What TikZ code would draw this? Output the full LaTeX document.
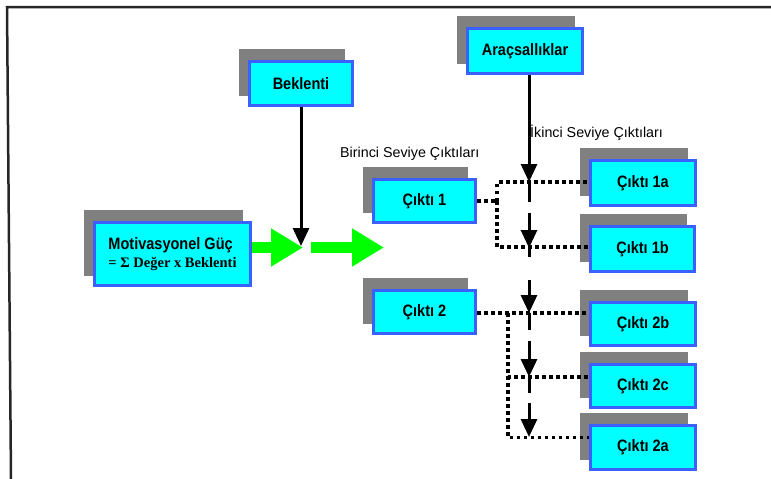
\documentclass[tikz,border=0pt]{standalone}
\usepackage{fontspec}
\setmainfont{Liberation Sans}
\newfontfamily\labelfont[FakeStretch=0.88]{Liberation Sans}
\newfontfamily\formulafont{Liberation Serif}
\usetikzlibrary{arrows.meta,calc,backgrounds}

\definecolor{boxcyan}{RGB}{0,255,255}
\definecolor{boxblue}{RGB}{60,95,255}
\definecolor{shadowgray}{RGB}{128,128,128}
\definecolor{arrowgreen}{RGB}{0,255,0}

\begin{document}
\begin{tikzpicture}[x=1pt,y=-1pt,
  box/.style={draw=boxblue, line width=3pt, fill=boxcyan, outer sep=1.5pt,
    inner sep=2pt, text=black, font=\labelfont\bfseries\fontsize{16.5}{19}\selectfont},
  levelnote/.style={anchor=base west, inner sep=0pt, font=\fontsize{14.3}{16}\selectfont},
  blk/.style={line width=3pt, -{Triangle[width=16pt,length=18pt]}},
  blkstub/.style={line width=3pt},
  dotline/.style={line width=3.5pt, dash pattern=on 3.5pt off 3.5pt},
  greenarrow/.style={draw=arrowgreen, line width=11pt,
    -{Triangle[width=36pt,length=32pt]}},
  frameline/.style={line width=2.5pt, black!85}
]
\useasboundingbox (0,0) rectangle (771,479);

% open frame (top and left edges)
\draw[frameline] (11,479) -- (7,7) -- (771,7);

% boxes
\node[box, minimum width=103pt, minimum height=44pt] (bek) at (301,83.5) {Beklenti};
\node[box, minimum width=115pt, minimum height=45pt] (arac) at (525,51) {Araçsallıklar};
\node[box, minimum width=156pt, minimum height=63pt, align=left] (mot) at (172.5,254)
  {Motivasyonel Güç\\[-1pt]
   {\formulafont\bfseries\fontsize{14.5}{17}\selectfont = Σ Değer x Beklenti}};
\node[box, minimum width=102pt, minimum height=43pt] (c1) at (424.5,201) {Çıktı 1};
\node[box, minimum width=102pt, minimum height=43pt] (c2) at (424.5,312) {Çıktı 2};
\node[box, minimum width=105pt, minimum height=45pt] (c1a) at (643,183) {Çıktı 1a};
\node[box, minimum width=104pt, minimum height=45pt] (c1b) at (642.5,249) {Çıktı 1b};
\node[box, minimum width=105pt, minimum height=43pt] (c2b) at (643,324) {Çıktı 2b};
\node[box, minimum width=105pt, minimum height=43pt] (c2c) at (643,386) {Çıktı 2c};
\node[box, minimum width=105pt, minimum height=44pt] (c2a) at (643,447.5) {Çıktı 2a};

% drop shadows behind the boxes
\begin{scope}[on background layer]
  \foreach \n in {bek,arac,mot,c1,c2,c1a,c1b,c2b,c2c,c2a}
    \fill[shadowgray] ($(\n.north west)+(-9,-11)$) rectangle ($(\n.south east)+(-9,-11)$);
\end{scope}

% level captions
\node[levelnote] (lvl1) at (340,157) {Birinci Seviye Çıktıları};
\node[levelnote] (lvl2) at (530,137) {İkinci Seviye Çıktıları};

% dotted links from first-level to second-level outcomes
\coordinate (s1) at ($(c1.east)+(20,0)$);
\draw[dotline] (c1.east) -- (s1);
\draw[dotline] (s1) |- ($(c1a.west)+(0,-1)$);
\draw[dotline] (s1) |- ($(c1b.west)+(0,-2)$);
\coordinate (s2) at ($(c2.east)+(31,1)$);
\draw[dotline] ($(c2.east)+(0,1)$) -- ($(c2b.west)+(0,-11)$);
\draw[dotline] (s2) |- ($(c2c.west)+(0,-9)$);
\draw[dotline] (s2) |- ($(c2a.west)+(0,-10)$);

% instrumentality chain
\coordinate (va) at (529,182);
\coordinate (vb) at (529,248);
\coordinate (vc) at (529,313);
\coordinate (vd) at (529,377);
\coordinate (ve) at (529,437);
\draw[blk] (arac.south -| va) -- (va);
\draw[blkstub] (va) -- ++(0,20);
\draw[blk] ($(vb)+(0,-35)$) -- (vb);
\draw[blkstub] (vb) -- ++(0,9);
\draw[blk] ($(vc)+(0,-33)$) -- (vc);
\draw[blkstub] (vc) -- ++(0,17);
\draw[blk] ($(vd)+(0,-36)$) -- (vd);
\draw[blkstub] (vd) -- ++(0,16);
\draw[blk] ($(ve)+(0,-34)$) -- (ve);

% expectancy arrow
\coordinate (bj) at (301,246);
\draw[blk] (bek.south) -- (bj);

% motivational force arrows
\coordinate (g1) at (303,247.5);
\coordinate (g2s) at (311,247.5);
\coordinate (g2e) at (384,247.5);
\draw[greenarrow] (mot.east |- g1) -- (g1);
\draw[greenarrow] (g2s) -- (g2e);
\end{tikzpicture}
\end{document}
